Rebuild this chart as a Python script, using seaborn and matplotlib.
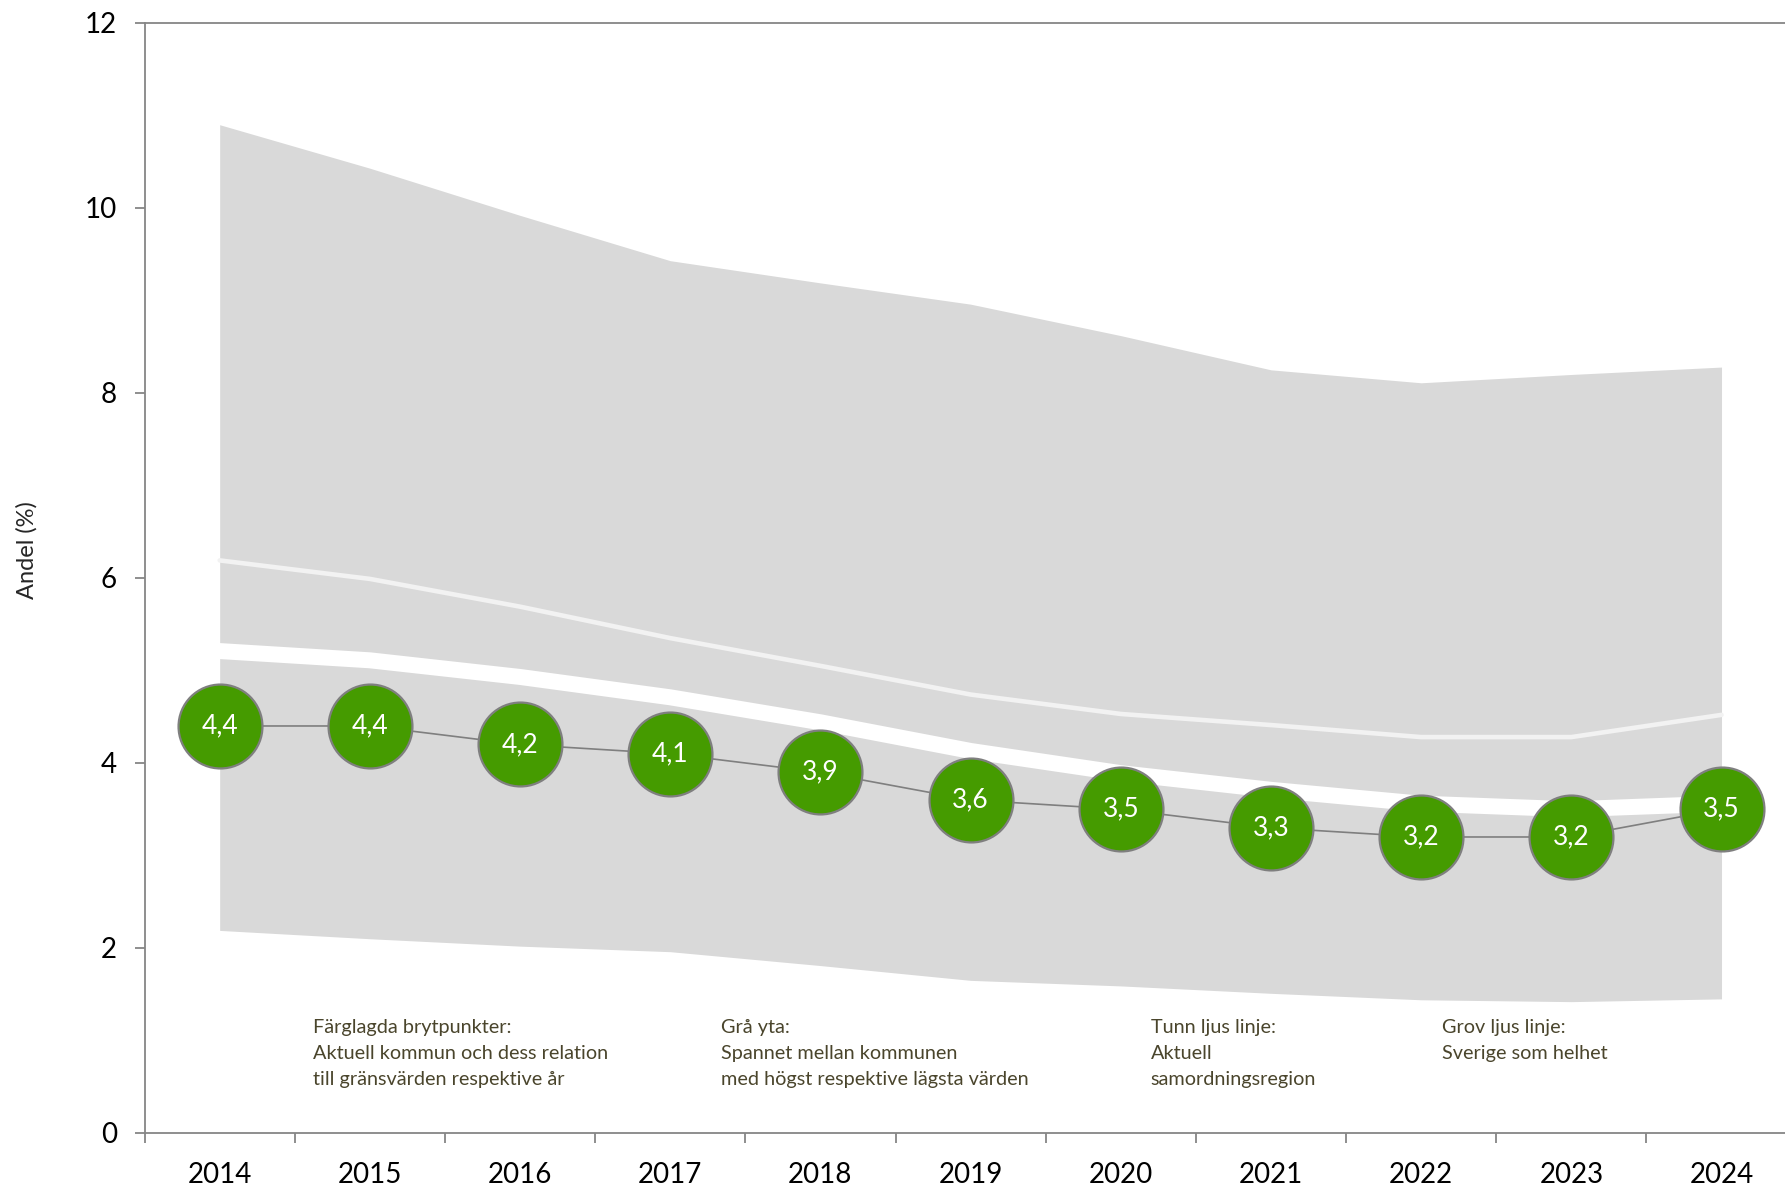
import numpy as np
import pandas as pd
import matplotlib
matplotlib.use("Agg")
import matplotlib.pyplot as plt
import seaborn as sns
from matplotlib.ticker import FixedLocator

# %%
# data
years = [2014, 2015, 2016, 2017, 2018, 2019, 2020, 2021, 2022, 2023, 2024]
kommun = [4.4, 4.4, 4.2, 4.1, 3.9, 3.6, 3.5, 3.3, 3.2, 3.2, 3.5]
kommun_labels = ["4,4", "4,4", "4,2", "4,1", "3,9", "3,6", "3,5", "3,3", "3,2", "3,2", "3,5"]
span_max = [10.9, 10.43, 9.92, 9.43, 9.19, 8.96, 8.62, 8.25, 8.11, 8.2, 8.28]
span_min = [2.19, 2.1, 2.02, 1.96, 1.81, 1.65, 1.59, 1.51, 1.44, 1.42, 1.45]
region = [6.19, 5.99, 5.69, 5.35, 5.05, 4.74, 4.53, 4.41, 4.28, 4.28, 4.52]
sverige = [5.21, 5.11, 4.93, 4.71, 4.44, 4.13, 3.89, 3.71, 3.56, 3.5, 3.56]

notes = [
    "Färglagda brytpunkter:\nAktuell kommun och dess relation\ntill gränsvärden respektive år",
    "Grå yta:\nSpannet mellan kommunen\nmed högst respektive lägsta värden",
    "Tunn ljus linje:\nAktuell\nsamordningsregion",
    "Grov ljus linje:\nSverige som helhet",
]
note_x = [2014.62, 2017.34, 2020.2, 2022.14]

df = pd.DataFrame({"year": years, "kommun": kommun, "max": span_max,
                   "min": span_min, "region": region, "sverige": sverige})

# %%
sns.set_style("white")
plt.rcParams['font.family'] = ['Lato', 'DejaVu Sans']

fig = plt.figure(figsize=(17.85, 11.89), dpi=100)
ax = fig.add_axes([0.081, 0.0471, 0.9255, 0.9336])

grey_axis = "#868686"
green = "#459b00"

ax.fill_between(df["year"], df["min"], df["max"], color="#d9d9d9", lw=0, zorder=1)
sns.lineplot(data=df, x="year", y="region", ax=ax, color="#f2f2f2", lw=3.3, zorder=2)
sns.lineplot(data=df, x="year", y="sverige", ax=ax, color="white", lw=11.5, zorder=3)
sns.lineplot(data=df, x="year", y="kommun", ax=ax, color="#7f7f7f", lw=1.2, zorder=4)
sns.scatterplot(data=df, x="year", y="kommun", ax=ax, s=3650, color=green,
                edgecolor="#7f7f7f", linewidth=1.6, zorder=5)

for yr, v, lab in zip(years, kommun, kommun_labels):
    ax.text(yr, v, lab, ha="center", va="center", color="white",
            fontsize=19, zorder=6)

for xn, txt in zip(note_x, notes):
    ax.text(xn, 1.23, txt, ha="left", va="top", color="#4a452c",
            fontsize=14.3, linespacing=1.62, zorder=6)

ax.set_xlim(2013.5, 2024.5)
ax.set_ylim(0, 12)
ax.set_yticks(range(0, 13, 2))
ax.xaxis.set_major_locator(FixedLocator([y - 0.5 for y in years] + [2024.5]))
ax.xaxis.set_minor_locator(FixedLocator(years))
ax.set_xticklabels([], minor=False)
ax.set_xticklabels([str(y) for y in years], minor=True)
ax.tick_params(axis="x", which="major", direction="out", length=7, width=1.3,
               color=grey_axis, bottom=True)
ax.tick_params(axis="x", which="minor", length=0, pad=21, labelsize=20,
               labelcolor="black", bottom=True)
ax.tick_params(axis="y", direction="out", length=7, width=1.3, color=grey_axis,
               labelsize=20, labelcolor="black", left=True, pad=13)

ax.set_xlabel("")
ax.set_ylabel("Andel (%)", fontsize=17, labelpad=34)
ax.yaxis.label.set_y(0.525)

for side in ["left", "bottom", "top"]:
    ax.spines[side].set_color(grey_axis)
    ax.spines[side].set_linewidth(1.3)
ax.spines["right"].set_visible(False)

fig.savefig("out.png", dpi=100)
